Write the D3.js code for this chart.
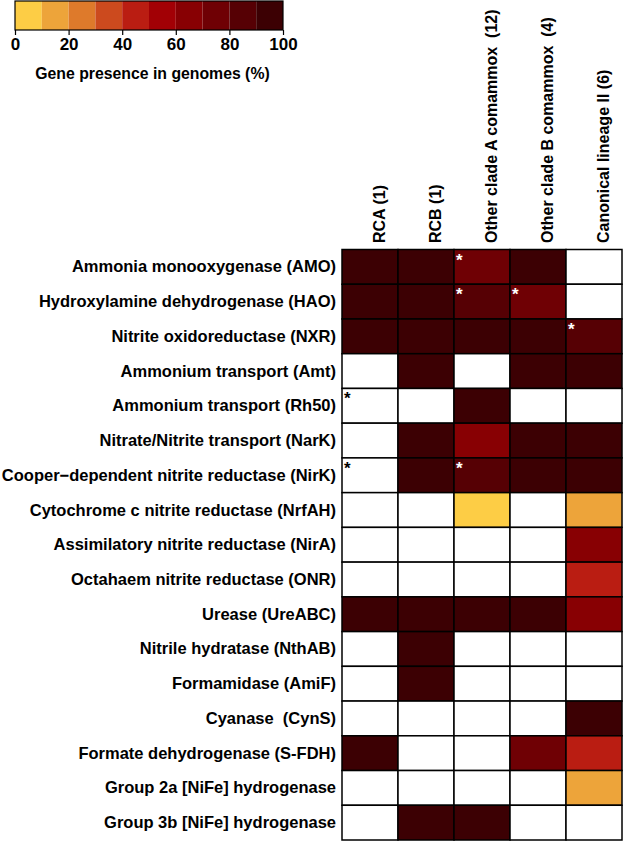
<!DOCTYPE html>
<html>
<head>
<meta charset="utf-8">
<script src="https://cdn.jsdelivr.net/npm/d3@7"></script>
<style>
  body { margin: 0; background: #fff; }
  text { font-family: "Liberation Sans", Arial, Helvetica, sans-serif; font-weight: bold; white-space: pre; }
</style>
</head>
<body>
<div id="chart"></div>
<script>
// data
var genes = [
  "Ammonia monooxygenase (AMO)",
  "Hydroxylamine dehydrogenase (HAO)",
  "Nitrite oxidoreductase (NXR)",
  "Ammonium transport (Amt)",
  "Ammonium transport (Rh50)",
  "Nitrate/Nitrite transport (NarK)",
  "Cooper\u2212dependent nitrite reductase (NirK)",
  "Cytochrome c nitrite reductase (NrfAH)",
  "Assimilatory nitrite reductase (NirA)",
  "Octahaem nitrite reductase (ONR)",
  "Urease (UreABC)",
  "Nitrile hydratase (NthAB)",
  "Formamidase (AmiF)",
  "Cyanase  (CynS)",
  "Formate dehydrogenase (S-FDH)",
  "Group 2a [NiFe] hydrogenase",
  "Group 3b [NiFe] hydrogenase"
];
var groups = ["RCA (1)", "RCB (1)", "Other clade A comammox  (12)", "Other clade B comammox  (4)", "Canonical lineage II (6)"];

// % of genomes, null = absent
var rca      = [100, 100, 100, null, null, null, null, null, null, null, 100, null, null, null, 100, null, null];
var rcb      = [100, 100, 100, 100, null, 100, 100, null, null, null, 100, 100, 100, null, null, null, 100];
var cladeA   = [75, 85, 100, null, 100, 66.7, 83, 8.3, null, null, 100, null, null, null, null, null, 100];
var cladeB   = [100, 75, 100, 100, null, 100, 100, null, null, null, 100, null, null, null, 75, null, null];
var canonLII = [null, null, 83, 100, null, 100, 100, 16.7, 66.7, 45, 66.7, null, null, 100, 45, 16.7, null];
var seriesValues = [rca, rcb, cladeA, cladeB, canonLII];

// asterisk marks: [gene index, group index, colour]
var stars = [[0, 2, "white"], [1, 2, "white"], [1, 3, "white"], [2, 4, "white"],
             [6, 2, "white"], [4, 0, "black"], [6, 0, "black"]];

var legendTicks = [0, 20, 40, 60, 80, 100];
var binColors = ["#fdcd45", "#eda43a", "#de7a2b", "#cc4a1e", "#ba1d12",
                 "#a20005", "#880003", "#6f0004", "#560004", "#3c0003"];

var width = 623, height = 841;

var svg = d3.select("#chart").append("svg")
  .attr("width", width)
  .attr("height", height);

var color = d3.scaleQuantize().domain([0, 100]).range(binColors);

// legend
var legendX = d3.scaleLinear().domain([0, 100]).range([15, 283]);
var legend = svg.append("g");
legend.selectAll("rect")
  .data(binColors)
  .enter()
  .append("rect")
  .attr("x", (d, i) => legendX(i * 10))
  .attr("y", 1)
  .attr("width", legendX(10) - legendX(0))
  .attr("height", 29)
  .attr("fill", d => d);
legend.append("rect")
  .attr("x", legendX(0)).attr("y", 1)
  .attr("width", legendX(100) - legendX(0)).attr("height", 29)
  .attr("fill", "none").attr("stroke", "#000").attr("stroke-width", 1.2);

var legendAxis = legend.append("g")
  .attr("transform", "translate(0,30)")
  .call(d3.axisBottom(legendX).tickValues(legendTicks).tickSize(5).tickSizeOuter(0).tickPadding(3));
legendAxis.select(".domain").remove();
legendAxis.selectAll("line").attr("stroke-width", 1.2);
legendAxis.selectAll("text")
  .attr("font-size", 17)
  .attr("fill", "#000")
  .style("font-family", "'Liberation Sans', Arial, sans-serif")
  .style("font-weight", "bold");

legend.append("text")
  .attr("x", legendX(50) + 3.5)
  .attr("y", 79)
  .attr("text-anchor", "middle")
  .attr("font-size", 15.8)
  .text("Gene presence in genomes (%)");

// heatmap
var x = d3.scaleBand().domain(groups).range([342, 622]);
var y = d3.scaleBand().domain(genes).range([249.5, 840]);

var cells = [];
seriesValues.forEach((vals, gi) => {
  vals.forEach((v, ri) => cells.push({ gene: genes[ri], group: groups[gi], value: v }));
});

svg.append("g").selectAll("rect")
  .data(cells)
  .enter()
  .append("rect")
  .attr("x", d => x(d.group))
  .attr("y", d => y(d.gene))
  .attr("width", x.bandwidth())
  .attr("height", y.bandwidth())
  .attr("fill", d => d.value == null ? "#fff" : color(d.value))
  .attr("stroke", "#000")
  .attr("stroke-width", 1.5);

// asterisks
svg.append("g").selectAll("text")
  .data(stars)
  .enter()
  .append("text")
  .attr("x", d => x(groups[d[1]]) + 2)
  .attr("y", d => y(genes[d[0]]) + 16)
  .attr("font-size", 17)
  .attr("fill", d => d[2])
  .text("*");

// row labels
svg.append("g").selectAll("text")
  .data(genes)
  .enter()
  .append("text")
  .attr("x", 336)
  .attr("y", d => y(d) + y.bandwidth() / 2 + 5.5)
  .attr("text-anchor", "end")
  .attr("font-size", 16.5)
  .text(d => d);

// column labels
svg.append("g").selectAll("text")
  .data(groups)
  .enter()
  .append("text")
  .attr("transform", d => `translate(${x(d) + x.bandwidth() / 2 + 15}, 243) rotate(-90)`)
  .attr("text-anchor", "start")
  .attr("font-size", 16)
  .text(d => d);
</script>
</body>
</html>
